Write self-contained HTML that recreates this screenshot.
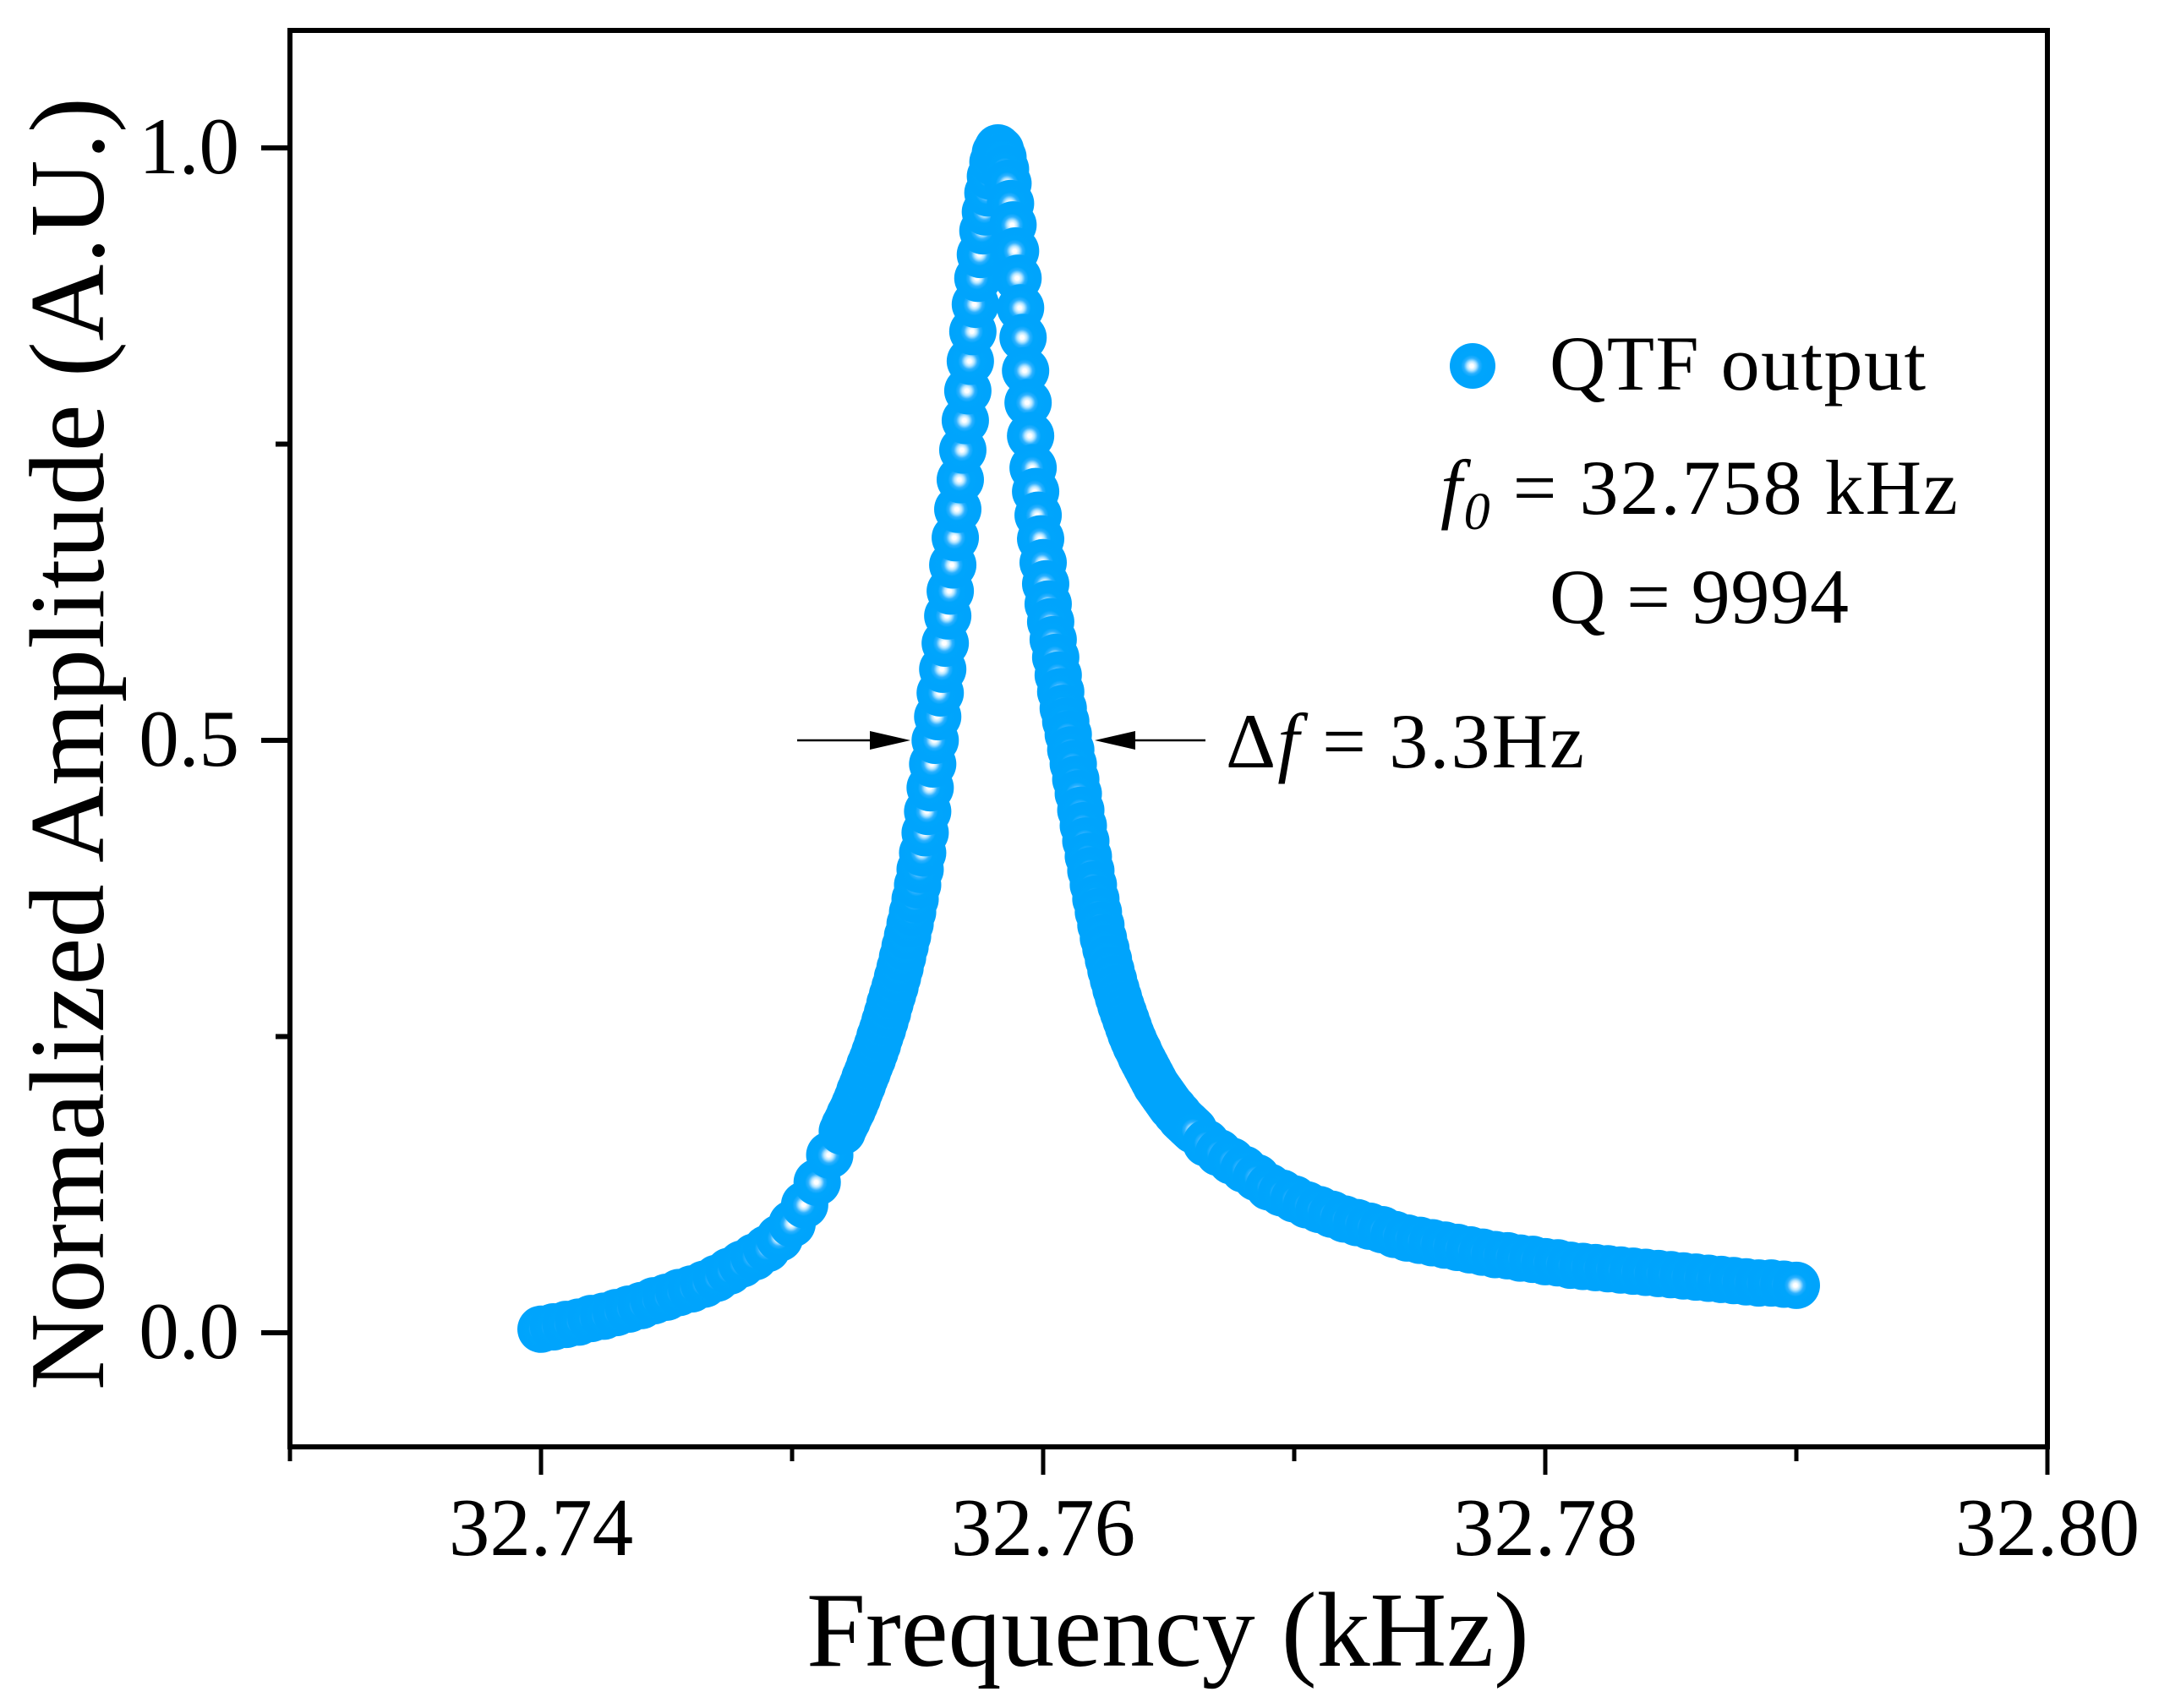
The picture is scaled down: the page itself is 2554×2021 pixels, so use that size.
<!DOCTYPE html>
<html><head><meta charset="utf-8"><style>
html,body{margin:0;padding:0;background:#fff;}
svg{display:block;font-family:"Liberation Serif","Times New Roman",serif;}
</style></head><body>
<svg id="chart" width="2554" height="2021" viewBox="0 0 2554 2021" xmlns="http://www.w3.org/2000/svg">
<defs>
<radialGradient id="ball" cx="0.48" cy="0.5" r="0.5">
<stop offset="0" stop-color="#ffffff"/>
<stop offset="0.08" stop-color="#ffffff"/>
<stop offset="0.2" stop-color="#b8e6ff"/>
<stop offset="0.34" stop-color="#2db1ff"/>
<stop offset="0.48" stop-color="#00a5fc"/>
<stop offset="1" stop-color="#00a4fc"/>
</radialGradient>
</defs>
<g id="marks"></g>
<g id="axes"></g>
<g>
<circle cx="1742" cy="433" r="27" fill="url(#ball)"/>
<text x="1833" y="461" font-size="92" textLength="445">QTF output</text>
</g>
<text x="1704" y="608" font-size="92" textLength="612"><tspan font-style="italic">f</tspan><tspan font-style="italic" font-size="62" dy="18">0</tspan><tspan dy="-18"> = 32.758 kHz</tspan></text>
<text x="1833" y="737" font-size="92" textLength="354">Q = 9994</text>
<text x="1450" y="908" font-size="92" textLength="424">Δ<tspan font-style="italic">f</tspan> = 3.3Hz</text>
<g>
<line x1="943" y1="876" x2="1040" y2="876" stroke="#000" stroke-width="2.5"/>
<polygon points="1029,865 1077,876 1029,887" fill="#000"/>
</g>
<g>
<line x1="1340" y1="876" x2="1426" y2="876" stroke="#000" stroke-width="2.5"/>
<polygon points="1343,865 1295,876 1343,887" fill="#000"/>
</g>
<text x="954" y="1971" font-size="126" textLength="855">Frequency (kHz)</text>
<text transform="translate(122,1645) rotate(-90)" font-size="126" textLength="1530">Normalized Amplitude (A.U.)</text>
</svg>
<script>
// frequency offsets in Hz above 32.740 kHz
const freqHz = [0,0.5,1,1.5,2,2.5,3,3.5,4,4.5,5,5.5,6,6.5,7,7.5,8,8.5,9,9.5,10,10.5,11,11.5,
12.0,12.1,12.2,12.3,12.4,12.5,12.6,12.7,12.8,12.9,13.0,13.1,13.2,13.3,13.4,13.5,13.6,13.7,13.8,13.9,
14.0,14.1,14.2,14.3,14.4,14.5,14.6,14.7,14.8,14.9,15.0,15.1,15.2,15.3,15.4,15.5,15.6,15.7,15.8,15.9,
16.0,16.1,16.2,16.3,16.4,16.5,16.6,16.7,16.8,16.9,17.0,17.1,17.2,17.3,17.4,17.5,17.6,17.7,17.8,17.9,
18.0,18.1,18.2,18.3,18.4,18.5,18.6,18.7,18.8,18.9,19.0,19.1,19.2,19.3,19.4,19.5,19.6,19.7,19.8,19.9,
20.0,20.1,20.2,20.3,20.4,20.5,20.6,20.7,20.8,20.9,21.0,21.1,21.2,21.3,21.4,21.5,21.6,21.7,21.8,21.9,
22.0,22.1,22.2,22.3,22.4,22.5,22.6,22.7,22.8,22.9,23.0,23.1,23.2,23.3,23.4,23.5,23.6,23.7,23.8,23.9,
24.0,24.1,24.2,24.3,24.4,24.5,24.6,24.7,24.8,24.9,25.0,25.1,25.2,25.3,25.4,25.5,25.6,25.7,25.8,25.9,26.0,
26.5,27,27.5,28,28.5,29,29.5,30,30.5,31,31.5,32,32.5,33,33.5,34,34.5,35,35.5,36,36.5,37,37.5,38,38.5,39,39.5,40,40.5,41,41.5,42,42.5,43,43.5,44,44.5,45,45.5,46,46.5,47,47.5,48,48.5,49,49.5,50];
const amplitude = [0.003,0.005,0.007,0.009,0.012,0.014,0.017,0.020,0.023,0.027,0.030,0.034,0.037,0.041,0.046,0.052,0.058,0.064,0.071,0.080,0.092,0.108,0.127,0.150,
0.170,0.175,0.179,0.184,0.188,0.193,0.198,0.204,0.209,0.215,0.220,0.226,0.231,0.237,0.243,0.250,0.256,0.263,0.270,0.278,
0.285,0.292,0.300,0.308,0.317,0.326,0.335,0.345,0.355,0.366,0.378,0.391,0.405,0.422,0.440,0.460,0.480,0.500,0.520,0.540,
0.560,0.582,0.605,0.626,0.648,0.671,0.695,0.720,0.745,0.770,0.795,0.820,0.845,0.868,0.890,0.910,0.930,0.946,0.962,0.976,
0.988,0.996,1.000,0.998,0.992,0.982,0.970,0.953,0.935,0.913,0.890,0.865,0.840,0.812,0.785,0.757,0.730,0.710,0.690,0.670,
0.650,0.632,0.615,0.600,0.585,0.570,0.555,0.541,0.527,0.516,0.505,0.492,0.480,0.467,0.455,0.441,0.428,0.415,0.402,0.390,
0.378,0.366,0.355,0.344,0.333,0.324,0.315,0.306,0.298,0.290,0.283,0.276,0.270,0.264,0.258,0.252,0.247,0.242,0.238,0.233,
0.229,0.225,0.221,0.217,0.213,0.209,0.206,0.203,0.200,0.197,0.194,0.191,0.189,0.186,0.184,0.181,0.179,0.177,0.175,0.173,0.171,
0.160,0.152,0.145,0.138,0.131,0.123,0.118,0.113,0.108,0.104,0.100,0.096,0.093,0.090,0.087,0.083,0.080,0.078,0.076,0.074,0.072,0.070,0.068,0.066,0.065,0.063,0.062,0.060,0.059,0.057,0.056,0.055,0.054,0.053,0.052,0.051,0.050,0.049,0.048,0.047,0.046,0.045,0.044,0.043,0.042,0.042,0.041,0.040];
const xMajorTicks = [32.74,32.76,32.78,32.80];
const xTickLabels = ["32.74","32.76","32.78","32.80"];
const xMinorTicks = [32.73,32.75,32.77,32.79];
const yMajorTicks = [0,0.5,1.0];
const yTickLabels = ["0.0","0.5","1.0"];
const yMinorTicks = [0.25,0.75];
const baseKHz = 32.74;

const NS = "http://www.w3.org/2000/svg";
const L = 343, R = 2422, T = 36, B = 1712;
function xs(f){ return L + (f - 32.73) / 0.07 * (R - L); }
function ys(a){ return 1577 - a * 1402; }
function mk(tag, attrs, parent){
  const e = document.createElementNS(NS, tag);
  for (const k in attrs) e.setAttribute(k, attrs[k]);
  parent.appendChild(e);
  return e;
}
const marks = document.getElementById('marks');
const n = Math.min(freqHz.length, amplitude.length);
for (let i = 0; i < n; i++) {
  const c = mk('circle', {cx: xs(baseKHz + freqHz[i] / 1000), cy: ys(amplitude[i]), r: 28, fill: 'url(#ball)'}, marks);
  
  
}
const axes = document.getElementById('axes');
const frame = mk('rect', {x: L, y: T, width: R - L, height: B - T, fill: 'none', stroke: '#000', 'stroke-width': 6}, axes);


xMajorTicks.forEach((v, i) => {
  const t = mk('line', {x1: xs(v), x2: xs(v), y1: B, y2: B + 33, stroke: '#000', 'stroke-width': 5}, axes);
  
  
  const lb = mk('text', {x: xs(v), y: 1840, 'font-size': 97, 'text-anchor': 'middle'}, axes);
  lb.textContent = xTickLabels[i];
  
  
});
xMinorTicks.forEach(v => {
  const t = mk('line', {x1: xs(v), x2: xs(v), y1: B, y2: B + 17, stroke: '#000', 'stroke-width': 5}, axes);
  
  
});
yMajorTicks.forEach((v, i) => {
  const t = mk('line', {x1: L - 34, x2: L, y1: ys(v), y2: ys(v), stroke: '#000', 'stroke-width': 6}, axes);
  
  
  const lb = mk('text', {x: 283, y: ys(v) + 30, 'font-size': 95, 'text-anchor': 'end'}, axes);
  lb.textContent = yTickLabels[i];
  
  
});
yMinorTicks.forEach(v => {
  const t = mk('line', {x1: L - 17, x2: L, y1: ys(v), y2: ys(v), stroke: '#000', 'stroke-width': 6}, axes);
  
  
});
</script>
</body></html>
